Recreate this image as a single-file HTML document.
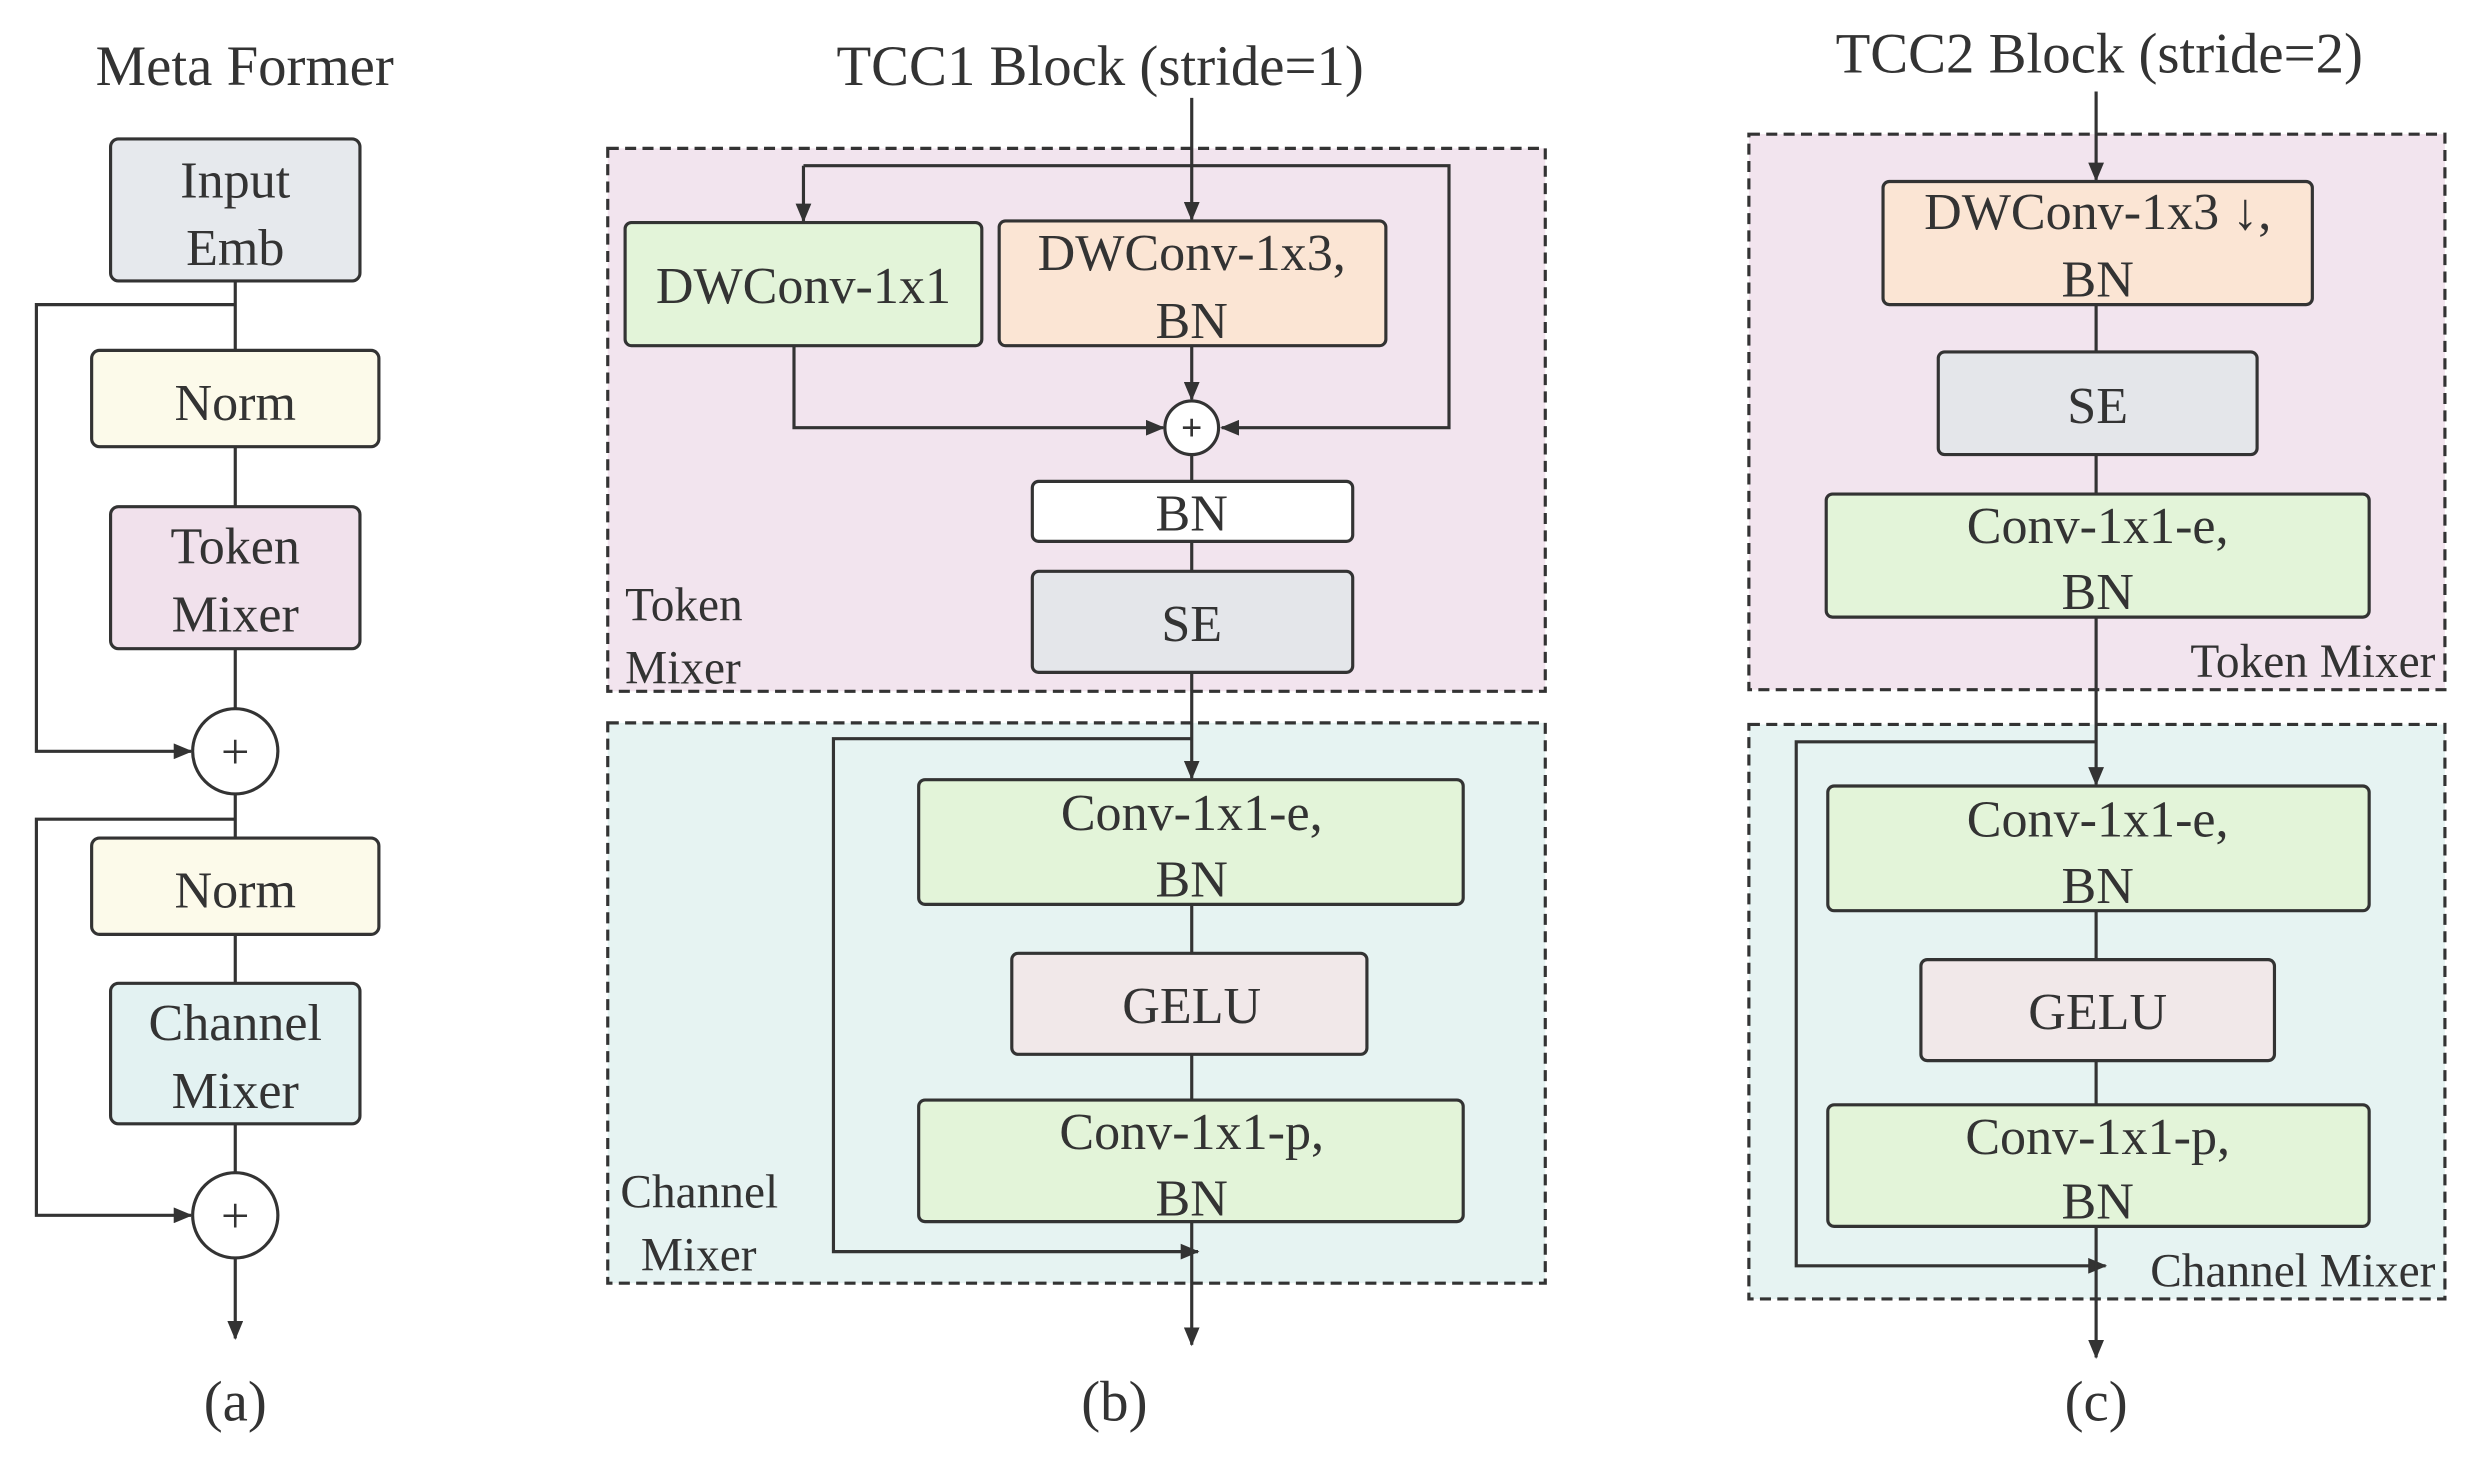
<!DOCTYPE html>
<html><head><meta charset="utf-8"><style>
html,body{margin:0;padding:0;background:#fff;}
svg{display:block;}
svg text{font-family:"Liberation Serif","DejaVu Serif",serif;fill:#333;}
</style></head><body>
<svg width="2475" height="1471" viewBox="0 0 1568 932" xmlns="http://www.w3.org/2000/svg" font-family="Liberation Serif, DejaVu Serif, serif">
<defs>
<marker id="ar" markerWidth="12" markerHeight="10" refX="11" refY="5" orient="auto" markerUnits="userSpaceOnUse">
<path d="M0,0 L12,5 L0,10 z" fill="#333"/></marker>
</defs>
<g stroke="#333" stroke-width="2" fill="none">
<line x1="149" y1="178" x2="149" y2="222"/>
<line x1="149" y1="283" x2="149" y2="321"/>
<line x1="149" y1="411" x2="149" y2="449"/>
<line x1="149" y1="503" x2="149" y2="531"/>
<line x1="149" y1="592" x2="149" y2="623"/>
<line x1="149" y1="712" x2="149" y2="743"/>
<line x1="149" y1="797" x2="149" y2="848" marker-end="url(#ar)"/>
<polyline points="149,193 23,193 23,476 121,476" marker-end="url(#ar)"/>
<polyline points="149,519 23,519 23,770 121,770" marker-end="url(#ar)"/>
</g>
<g stroke="#333" stroke-width="2">
<rect x="70" y="88" width="158" height="90" rx="5" fill="#e6e9ed"/>
<rect x="58" y="222" width="182" height="61" rx="5" fill="#fcfaea"/>
<rect x="70" y="321" width="158" height="90" rx="5" fill="#f1e1ec"/>
<rect x="58" y="531" width="182" height="61" rx="5" fill="#fcfaea"/>
<rect x="70" y="623" width="158" height="89" rx="5" fill="#e3f2f2"/>
<circle cx="149" cy="476" r="27" fill="#fff"/>
<circle cx="149" cy="770" r="27" fill="#fff"/>
</g>
<g font-size="33" text-anchor="middle">
<text x="155" y="54" font-size="36">Meta Former</text>
<text x="149" y="125">Input</text><text x="149" y="168">Emb</text>
<text x="149" y="266">Norm</text>
<text x="149" y="357">Token</text><text x="149" y="400">Mixer</text>
<text x="149" y="575">Norm</text>
<text x="149" y="659">Channel</text><text x="149" y="702">Mixer</text>
<text x="149" y="487" font-size="32">+</text>
<text x="149" y="781" font-size="32">+</text>
<text x="149" y="900" font-size="36">(a)</text>
</g>

<rect x="385" y="94" width="594" height="344" fill="#f2e4ee" stroke="#333" stroke-width="2" stroke-dasharray="7,4"/>
<rect x="385" y="458" width="594" height="355" fill="#e6f3f2" stroke="#333" stroke-width="2" stroke-dasharray="7,4"/>
<g stroke="#333" stroke-width="2" fill="none">
<line x1="755" y1="62" x2="755" y2="139" marker-end="url(#ar)"/>
<polyline points="509,105 918,105 918,271 774,271" marker-end="url(#ar)"/>
<line x1="509" y1="105" x2="509" y2="140" marker-end="url(#ar)"/>
<polyline points="503,219 503,271 737,271" marker-end="url(#ar)"/>
<line x1="755" y1="219" x2="755" y2="253" marker-end="url(#ar)"/>
<line x1="755" y1="288" x2="755" y2="305"/>
<line x1="755" y1="343" x2="755" y2="362"/>
<line x1="755" y1="426" x2="755" y2="493" marker-end="url(#ar)"/>
<polyline points="755,468 528,468 528,793 759,793" marker-end="url(#ar)"/>
<line x1="755" y1="573" x2="755" y2="604"/>
<line x1="755" y1="668" x2="755" y2="697"/>
<line x1="755" y1="774" x2="755" y2="852" marker-end="url(#ar)"/>
</g>
<g stroke="#333" stroke-width="2">
<rect x="396" y="141" width="226" height="78" rx="4" fill="#e3f4d9"/>
<rect x="633" y="140" width="245" height="79" rx="4" fill="#fbe5d4"/>
<circle cx="755" cy="271" r="17" fill="#fff"/>
<rect x="654" y="305" width="203" height="38" rx="4" fill="#fff"/>
<rect x="654" y="362" width="203" height="64" rx="4" fill="#e4e6ea"/>
<rect x="582" y="494" width="345" height="79" rx="4" fill="#e3f4d9"/>
<rect x="641" y="604" width="225" height="64" rx="4" fill="#f1e8e9"/>
<rect x="582" y="697" width="345" height="77" rx="4" fill="#e3f4d9"/>
</g>
<g font-size="33" text-anchor="middle">
<text x="697" y="54" font-size="36">TCC1 Block (stride=1)</text>
<text x="509" y="192">DWConv-1x1</text>
<text x="755" y="171">DWConv-1x3,</text><text x="755" y="214">BN</text>
<text x="755" y="279" font-size="24" font-weight="bold">+</text>
<text x="755" y="336">BN</text>
<text x="755" y="406">SE</text>
<text x="755" y="526">Conv-1x1-e,</text><text x="755" y="568">BN</text>
<text x="755" y="648">GELU</text>
<text x="755" y="728">Conv-1x1-p,</text><text x="755" y="770">BN</text>
<text x="706" y="900" font-size="36">(b)</text>
</g>
<g font-size="30">
<text x="396" y="393">Token</text><text x="396" y="433">Mixer</text>
<text x="393" y="765">Channel</text><text x="406" y="805">Mixer</text>
</g>

<rect x="1108" y="85" width="441" height="352" fill="#f2e4ee" stroke="#333" stroke-width="2" stroke-dasharray="7,4"/>
<rect x="1108" y="459" width="441" height="364" fill="#e6f3f2" stroke="#333" stroke-width="2" stroke-dasharray="7,4"/>
<g stroke="#333" stroke-width="2" fill="none">
<line x1="1328" y1="58" x2="1328" y2="114" marker-end="url(#ar)"/>
<line x1="1328" y1="193" x2="1328" y2="223"/>
<line x1="1328" y1="288" x2="1328" y2="313"/>
<line x1="1328" y1="391" x2="1328" y2="497" marker-end="url(#ar)"/>
<polyline points="1328,470 1138,470 1138,802 1334,802" marker-end="url(#ar)"/>
<line x1="1328" y1="577" x2="1328" y2="608"/>
<line x1="1328" y1="672" x2="1328" y2="700"/>
<line x1="1328" y1="777" x2="1328" y2="860" marker-end="url(#ar)"/>
</g>
<g stroke="#333" stroke-width="2">
<rect x="1193" y="115" width="272" height="78" rx="4" fill="#fbe5d4"/>
<rect x="1228" y="223" width="202" height="65" rx="4" fill="#e4e6ea"/>
<rect x="1157" y="313" width="344" height="78" rx="4" fill="#e3f4d9"/>
<rect x="1158" y="498" width="343" height="79" rx="4" fill="#e3f4d9"/>
<rect x="1217" y="608" width="224" height="64" rx="4" fill="#f1e8e9"/>
<rect x="1158" y="700" width="343" height="77" rx="4" fill="#e3f4d9"/>
</g>
<g font-size="33" text-anchor="middle">
<text x="1330" y="46" font-size="36">TCC2 Block (stride=2)</text>
<text x="1329" y="145">DWConv-1x3 ↓,</text><text x="1329" y="188">BN</text>
<text x="1329" y="268">SE</text>
<text x="1329" y="344">Conv-1x1-e,</text><text x="1329" y="386">BN</text>
<text x="1329" y="530">Conv-1x1-e,</text><text x="1329" y="572">BN</text>
<text x="1329" y="652">GELU</text>
<text x="1329" y="731">Conv-1x1-p,</text><text x="1329" y="772">BN</text>
<text x="1328" y="900" font-size="36">(c)</text>
</g>
<g font-size="30" text-anchor="end">
<text x="1543" y="429">Token Mixer</text>
<text x="1543" y="815">Channel Mixer</text>
</g>
</svg>
</body></html>
